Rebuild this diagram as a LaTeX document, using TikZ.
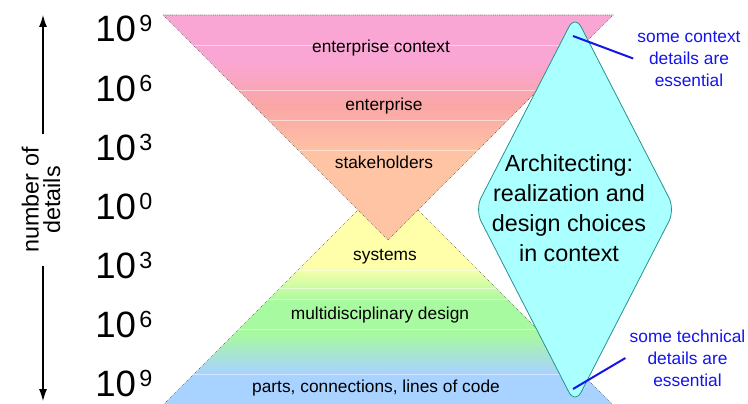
\documentclass[tikz,border=0pt]{standalone}
\usepackage{fontspec}
\setmainfont{Liberation Sans}
\usetikzlibrary{arrows.meta}

\definecolor{pinktop}{RGB}{250,166,212}
\definecolor{salmonmid}{RGB}{250,166,166}
\definecolor{peachlow}{RGB}{255,196,164}
\definecolor{yellowtop}{RGB}{255,255,170}
\definecolor{greenmid}{RGB}{168,250,160}
\definecolor{bluelow}{RGB}{168,210,255}
\definecolor{archcyan}{RGB}{170,255,255}
\definecolor{archedge}{RGB}{40,145,145}
\definecolor{noteblue}{RGB}{20,20,235}

\pgfdeclareverticalshading{upperfan}{100bp}{color(0bp)=(peachlow); color(25bp)=(peachlow); color(44bp)=(peachlow); color(55bp)=(salmonmid); color(65bp)=(pinktop); color(100bp)=(pinktop)}
\pgfdeclareverticalshading{lowerfan}{100bp}{color(0bp)=(bluelow); color(25bp)=(bluelow); color(32bp)=(bluelow); color(41bp)=(greenmid); color(48bp)=(greenmid); color(56bp)=(yellowtop); color(100bp)=(yellowtop)}

\newcommand\tenpow[1]{10\kern2.5pt\raisebox{7.5pt}{\fontsize{17.5}{17.5}\selectfont #1}}

\begin{document}
\begin{tikzpicture}[x=0.75pt, y=-0.75pt,
	power/.style={anchor=base west, font=\fontsize{27.5}{27.5}\selectfont, inner sep=0pt},
	band/.style={anchor=base, font=\fontsize{13}{13}\selectfont, inner sep=0pt},
	fanedge/.style={draw=black!75, line width=0.4pt, densely dotted},
	bandline/.style={white, opacity=0.5, line width=0.6pt},
	axisline/.style={thick, -{Latex[length=9pt,width=6pt]}},
	note/.style={text=noteblue, align=center, font=\fontsize{13}{16.5}\selectfont, inner xsep=3pt, inner ysep=0pt},
	noteline/.style={draw=noteblue, line width=1.5pt}]
	\useasboundingbox (0,0) rectangle (748,403);

	% lower fan: technical details
	\shadedraw[shading=lowerfan, fanedge] (388,180) -- (613,405) -- (163,405) -- cycle;
	\begin{scope}
		\clip (388,180) -- (613,405) -- (163,405) -- cycle;
		\foreach \y in {270,288,299,329,374}
			\draw[bandline] (160,\y) -- (620,\y);
	\end{scope}

	% upper fan: context details
	\shadedraw[shading=upperfan, fanedge] (163,15) -- (613,15) -- (388,240) -- cycle;
	\begin{scope}
		\clip (163,15) -- (613,15) -- (388,240) -- cycle;
		\foreach \y in {45,90,120,150}
			\draw[bandline] (160,\y) -- (620,\y);
	\end{scope}

	\node[band] (context) at (381,53) {enterprise context};
	\node[band] (enterprise) at (384,110) {enterprise};
	\node[band] (stakeholders) at (384,168) {stakeholders};
	\node[band] (systems) at (385,260) {systems};
	\node[band] (multidisc) at (380,319) {multidisciplinary design};
	\node[band] (parts) at (376,392) {parts, connections, lines of code};

	% architecting diamond
	\filldraw[fill=archcyan, draw=archedge, line width=0.6pt, rounded corners=10pt]
		(525,112.25) -- (575,15) -- (675,209.5) -- (575,404) -- (475,209.5) -- cycle;
	\node[align=center, inner sep=0pt, font=\fontsize{17.5}{22.5}\selectfont] (arch) at (569,208)
		{Architecting:\\realization and\\design choices\\in context};

	% notes
	\coordinate (ctxin) at (573,36);
	\coordinate (techin) at (573,389);
	\node[note] (ctxnote) at (689,58.5) {some context\\details are\\essential};
	\node[note] (technote) at (687.5,358) {some technical\\details are\\essential};
	\draw[noteline] (ctxin) -- (ctxnote.west);
	\draw[noteline] (techin) -- (technote.west);

	% scale
	\foreach \e [count=\i from 0] in {9,6,3,0,3,6,9}
		\node[power] (pow\i) at (95,{42+59.1*\i}) {\tenpow{\e}};

	\node[rotate=90, align=center, inner xsep=10pt, inner ysep=0pt, font=\fontsize{17.5}{16}\selectfont] (numdet) at (41,200) {number of\\details};
	\coordinate (axtop) at (43,15);
	\coordinate (axbot) at (43,401);
	\draw[axisline] (numdet.east -| axtop) -- (axtop);
	\draw[axisline] (numdet.west -| axbot) -- (axbot);
\end{tikzpicture}
\end{document}
